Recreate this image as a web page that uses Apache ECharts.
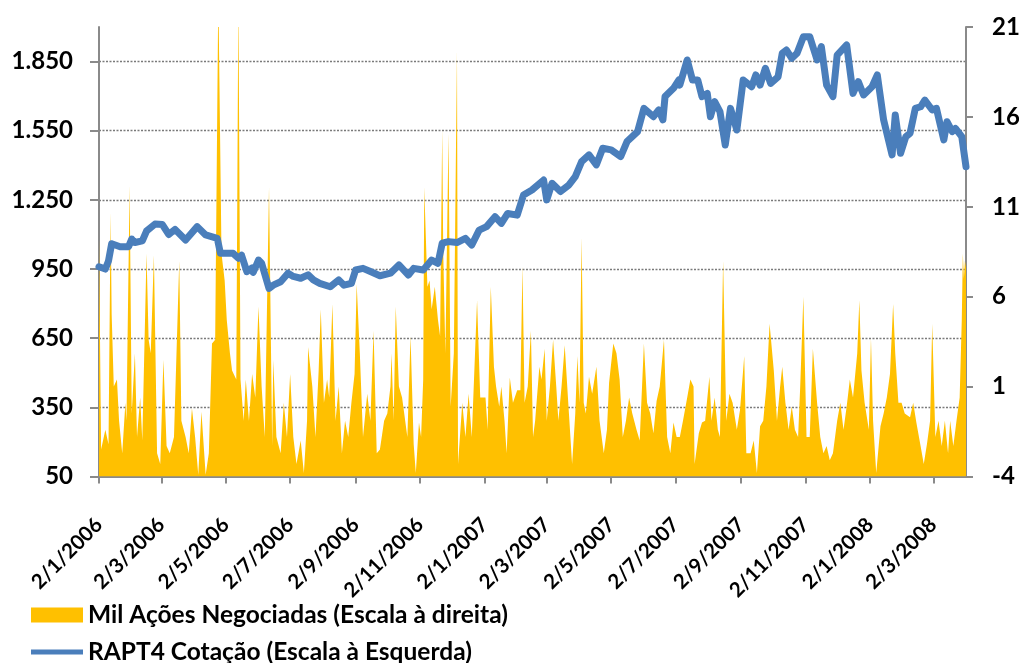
<!DOCTYPE html>
<html>
<head>
<meta charset="utf-8">
<script src="https://cdn.jsdelivr.net/npm/echarts@6/dist/echarts.min.js"></script>
<style>
html,body{margin:0;padding:0;background:#fff;}
#chart{width:1019px;height:663px;}
</style>
</head>
<body>
<div id="chart"></div>
<script>
// Datas das marcas do eixo X (dd/mm/aaaa)
const tickLabels = ['2/1/2006','2/3/2006','2/5/2006','2/7/2006','2/9/2006','2/11/2006',
  '2/1/2007','2/3/2007','2/5/2007','2/7/2007','2/9/2007','2/11/2007','2/1/2008','2/3/2008'];
const startDate = '2/1/2006';
const endDate = '2/4/2008';

// RAPT4 Cotação (escala à esquerda): dias desde 2/1/2006 e valores
const priceDay = [0,6,9,12,20,28,31,34,41,45,53,60,66,72,82,93,101,112,115,127,132,135,140,145,146,151,154,161,165,172,179,184,191,198,203,209,219,227,232,239,243,250,257,266,276,284,293,298,307,315,321,325,331,339,347,353,360,367,375,381,387,396,402,410,421,424,429,437,445,451,457,464,471,477,485,494,500,510,516,525,530,534,536,544,549,550,557,562,567,571,576,579,583,588,593,598,604,610,618,622,626,631,636,643,647,651,656,661,667,673,680,684,689,695,699,708,714,719,724,732,737,743,751,754,759,764,768,773,778,782,789,793,800,803,808,811,817,821];
const priceValue = [960,950,985,1060,1047,1047,1080,1065,1072,1115,1145,1143,1100,1122,1076,1134,1098,1083,1018,1018,997,1010,939,955,935,989,975,866,880,895,932,918,910,925,903,888,873,903,880,888,946,953,939,921,932,968,924,953,946,989,975,1062,1069,1065,1083,1054,1119,1134,1177,1148,1191,1184,1271,1293,1336,1250,1322,1286,1315,1351,1416,1445,1402,1474,1467,1438,1503,1546,1647,1611,1640,1597,1698,1734,1770,1748,1857,1770,1770,1698,1712,1611,1676,1633,1488,1647,1553,1770,1741,1792,1748,1821,1755,1784,1886,1900,1864,1886,1958,1958,1857,1915,1748,1698,1878,1922,1712,1763,1705,1741,1792,1597,1445,1618,1452,1524,1539,1647,1654,1683,1640,1647,1510,1589,1546,1560,1524,1394];

// Mil Ações Negociadas (escala à direita): dias desde 2/1/2006 e valores
const volDay = [0,2,6,9,11,12,14,17,19,22,25,26,29,31,34,36,39,41,45,47,49,52,55,58,61,64,67,71,76,78,82,85,88,91,94,97,101,104,107,110,113,116,119,121,124,126,130,132,134,137,139,142,145,148,151,154,157,161,164,165,168,172,175,178,181,184,187,191,194,197,198,202,205,208,210,213,216,218,221,224,227,230,233,236,239,242,244,247,250,254,257,260,263,266,270,273,276,277,279,281,284,287,292,295,298,300,303,305,307,308,311,313,315,318,321,323,325,326,328,331,333,336,339,340,344,347,350,353,358,361,366,368,371,374,376,379,381,384,386,389,392,396,399,401,403,406,409,411,413,417,419,422,424,427,430,433,435,438,441,445,448,451,453,455,457,459,461,464,467,471,474,478,481,483,487,490,493,496,499,502,505,509,512,516,519,522,525,528,531,535,538,541,544,547,550,553,557,560,563,564,568,571,574,578,580,583,586,588,591,594,597,600,604,607,611,613,617,620,623,626,629,632,635,639,642,645,647,650,653,656,659,662,664,667,670,673,676,680,683,686,689,692,695,699,702,705,708,711,714,718,720,722,725,729,731,733,736,740,743,746,749,752,754,757,760,763,768,771,774,778,781,784,787,789,792,795,798,801,804,806,809,812,815,817,818,819,820,821];
const volValue = [9.3,-2.5,-1.4,-2.2,10.7,5.0,1.0,1.4,-0.9,-2.7,0.1,-0.9,12.2,-0.5,2.85,-1.8,0.4,-2.0,8.4,3.6,2.85,8.3,-2.7,-3.3,2.5,-2.3,-2.7,-1.8,8.0,-0.9,-1.8,-2.7,-0.2,-1.8,-3.9,-0.4,-3.9,-2.7,3.4,3.6,23,8.4,6.9,4.7,2.85,1.9,1.4,23,1.4,-0.9,1.4,-0.9,1.7,0.4,5.45,1.0,-1.8,12.1,-2.3,2.5,-1.8,-2.7,0.1,-1.8,1.7,-1.8,-3.3,-2.0,-3.8,-0.9,3.2,1.0,-1.8,1.9,5.3,0.1,1.4,0.4,5.6,-0.9,1.0,-2.7,-0.9,-1.8,0.1,1.7,6.7,2.85,-1.8,0.6,-0.9,4.1,-2.7,-2.5,-0.9,-0.5,1.0,2.85,-0.9,5.45,1.0,0.4,-1.8,3.8,-2.2,-3.8,-1.0,-1.8,1.4,12.1,6.56,6.9,5.3,6.56,4.7,3.8,15.3,8.4,2.85,15.1,-0.1,2.85,19.7,-3.3,0.1,-1.8,0.6,-1.8,5.8,0.4,0.4,-1.4,6.56,2.1,1.0,-0.1,1.0,-0.9,-2.7,1.5,0.1,0.8,0.8,7.7,0.1,1.0,4.1,-1.8,-0.9,2.1,1.4,3.1,-0.9,1.0,3.6,1.0,-0.9,1.0,3.3,-0.5,-3.3,-0.5,2.7,0.1,9.3,0.1,-0.5,1.55,0.6,2.1,-0.9,-2.7,-1.4,1.2,3.4,2.85,1.4,-1.8,-0.9,0.4,-0.5,-1.4,-2.0,3.4,0.1,-0.5,-1.6,0.2,1.0,3.6,-1.8,-2.7,-1.0,-1.8,-1.8,-0.9,0.4,1.4,1.0,-3.3,-1.6,-1.0,-0.9,1.55,-0.9,0.4,-1.4,-1.8,8.0,-0.9,0.6,0.1,-1.4,-0.3,2.7,-2.7,-2.7,-2.0,-3.8,-1.2,-0.9,1.0,4.5,1.9,-0.9,1.0,2.1,0.1,-1.4,-0.1,-1.4,-1.8,1.0,6.0,-1.8,-1.8,3.1,0.1,-1.8,-2.7,-2.3,-3.1,-2.7,-0.9,0.1,-1.4,-0.1,1.4,0.4,2.85,5.8,1.9,0.1,-1.4,3.7,-0.9,-3.8,-1.2,-0.5,0.4,1.7,5.6,2.85,0.1,0.1,-0.5,-0.7,0.1,-1.0,-2.3,-3.3,-2.2,-0.9,4.5,-1.8,-0.9,-2.3,-0.9,-2.7,-0.9,-2.3,-0.9,0.4,4.7,8.4,7.0,8.0,7.6];

const volName = 'Mil Ações Negociadas (Escala à direita)';
const priceName = 'RAPT4 Cotação (Escala à Esquerda)';

function dayOf(label) {
  const p = label.split('/').map(Number);
  const s = startDate.split('/').map(Number);
  return Math.round((Date.UTC(p[2], p[1] - 1, p[0]) - Date.UTC(s[2], s[1] - 1, s[0])) / 86400000);
}
const tickDays = tickLabels.map(dayOf);
const labelByDay = {};
tickDays.forEach((d, i) => { labelByDay[d] = tickLabels[i]; });

const FONT = 'Lato';
const AXIS_COLOR = '#8a8a8a';

const chart = echarts.init(document.getElementById('chart'), null, {renderer: 'canvas'});
chart.setOption({
  animation: false,
  backgroundColor: '#ffffff',
  grid: {left: 99, right: 53, top: 27, bottom: 186.5, containLabel: false, outerBoundsMode: 'none'},
  legend: [
    {data: [volName], left: 31, top: 602, orient: 'vertical', padding: 0,
     itemWidth: 52, itemHeight: 15, icon: 'rect', selectedMode: false,
     textStyle: {fontFamily: FONT, fontSize: 24.5, fontWeight: 'bold', color: '#000', lineHeight: 26}},
    {data: [priceName], left: 31, top: 639, orient: 'vertical', padding: 0,
     itemWidth: 52, itemHeight: 5, icon: 'rect', selectedMode: false,
     textStyle: {fontFamily: FONT, fontSize: 24.5, fontWeight: 'bold', color: '#000', lineHeight: 26}}
  ],
  xAxis: {
    type: 'value', min: dayOf(startDate), max: dayOf(endDate),
    axisLine: {show: true, onZero: false, lineStyle: {color: AXIS_COLOR, width: 2}},
    axisTick: {show: true, length: 7, lineStyle: {color: AXIS_COLOR, width: 2}, customValues: tickDays},
    axisLabel: {customValues: tickDays, rotate: 45, margin: 45,
      fontFamily: FONT, fontSize: 20.5, fontWeight: 'bold', color: '#000',
      formatter: v => labelByDay[Math.round(v)] || ''},
    splitLine: {show: false}
  },
  yAxis: [
    {type: 'value', min: 50, max: 2000, interval: 300, position: 'left',
     axisLine: {show: true, lineStyle: {color: AXIS_COLOR, width: 2}},
     axisTick: {show: true, length: 9, lineStyle: {color: AXIS_COLOR, width: 2}},
     axisLabel: {margin: 26, fontFamily: FONT, fontSize: 24, fontWeight: 'bold', color: '#000', showMaxLabel: false,
       formatter: v => String(v).replace(/\B(?=(\d{3})+(?!\d))/g, '.')},
     splitLine: {show: true, showMinLine: false, showMaxLine: false,
       lineStyle: {color: '#7a7a7a', width: 1.3, type: [2, 1.5]}}},
    {type: 'value', min: -4, max: 21, interval: 5, position: 'right',
     axisLine: {show: true, lineStyle: {color: AXIS_COLOR, width: 2}},
     axisTick: {show: true, length: 7, lineStyle: {color: AXIS_COLOR, width: 2}},
     axisLabel: {margin: 26, fontFamily: FONT, fontSize: 24, fontWeight: 'bold', color: '#000'},
     splitLine: {show: false}}
  ],
  series: [
    {name: volName, type: 'line', yAxisIndex: 1, z: 1,
     data: volDay.map((d, i) => [d, volValue[i]]),
     showSymbol: false, symbol: 'none', clip: true,
     itemStyle: {color: '#FFC000'},
     lineStyle: {width: 0, color: '#FFC000'},
     areaStyle: {color: '#FFC000', opacity: 1, origin: 'start'}},
    {name: priceName, type: 'line', yAxisIndex: 0, z: 3,
     data: priceDay.map((d, i) => [d, priceValue[i]]),
     showSymbol: false, symbol: 'none', clip: true,
     itemStyle: {color: '#4A7EBB'},
     lineStyle: {width: 7, color: '#4A7EBB', cap: 'round', join: 'round'}}
  ]
});
</script>
</body>
</html>
